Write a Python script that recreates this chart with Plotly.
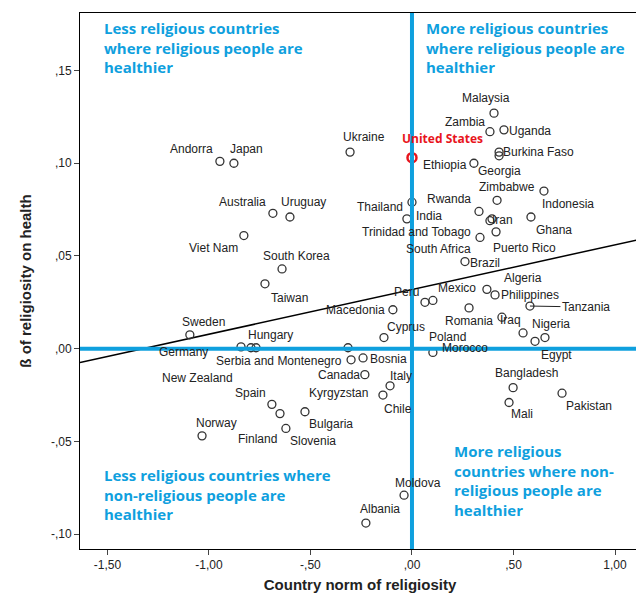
import numpy as np
import plotly.graph_objects as go

# circle positions (country norm of religiosity, beta of religiosity on health)
px = [-0.946, -0.877, -0.305, 0.404, 0.384, 0.453, 0.429, 0.429, 0.305, 0.419,
      0.650, 0.330, 0.384, 0.394, 0.586, 0.0, -0.025, 0.335, 0.414, 0.261,
      -0.828, -0.685, -0.601, -0.640, -0.724, -1.094, -0.842, -0.793, -0.768, -0.094,
      -0.138, 0.064, 0.103, 0.369, 0.409, 0.281, 0.581, 0.443, 0.547, 0.655,
      0.606, 0.103, -0.315, -0.300, -0.241, -0.232, -0.108, -0.143, -0.690, -0.650,
      -0.527, -0.621, -1.034, 0.498, 0.478, 0.739, -0.039, -0.227]
py = [0.101, 0.100, 0.106, 0.127, 0.117, 0.118, 0.106, 0.104, 0.100, 0.080,
      0.085, 0.074, 0.069, 0.070, 0.071, 0.079, 0.070, 0.060, 0.063, 0.047,
      0.061, 0.073, 0.071, 0.043, 0.035, 0.0075, 0.001, 0.0005, 0.0005, 0.021,
      0.006, 0.025, 0.026, 0.032, 0.029, 0.022, 0.023, 0.017, 0.0085, 0.006,
      0.004, -0.002, 0.0005, -0.006, -0.005, -0.014, -0.020, -0.025, -0.030, -0.035,
      -0.034, -0.043, -0.047, -0.021, -0.029, -0.024, -0.079, -0.094]

us_x, us_y = 0.0, 0.103

# labels: name, index of point, pixel offset (right, down)
labels = [("Andorra", 0, -28, -12), ("Japan", 1, 13, -14), ("Ukraine", 2, 14, -15),
          ("Malaysia", 3, -8, -15), ("Zambia", 4, -25, -10), ("Uganda", 5, 26, 1),
          ("Burkina Faso", 6, 39, 0), ("Ethiopia", 8, -29, 2), ("Georgia", 8, 26, 8),
          ("Zimbabwe", 9, 10, -13), ("Indonesia", 10, 24, 13), ("Rwanda", 11, -30, -12),
          ("Iran", 13, 11, 1), ("Ghana", 14, 23, 13), ("Thailand", 15, -32, 5),
          ("India", 16, 22, -3), ("Trinidad and Tobago", 17, -64, -5),
          ("South Africa", 17, -42, 12), ("Puerto Rico", 18, 28, 16), ("Brazil", 19, 20, 1),
          ("Viet Nam", 20, -30, 12), ("Australia", 21, -30, -11), ("Uruguay", 22, 14, -15),
          ("South Korea", 23, 14, -13), ("Taiwan", 24, 25, 14), ("Sweden", 25, 14, -13),
          ("Germany", 26, -58, 5), ("Hungary", 27, 20, -13), ("New Zealand", 28, -59, 30),
          ("Macedonia", 29, -37, 0), ("Cyprus", 30, 22, -11), ("Peru", 31, -18, -10),
          ("Mexico", 33, -30, -1), ("Algeria", 34, 28, -17), ("Philippines", 34, 35, 0),
          ("Romania", 35, 0, 13), ("Iraq", 37, 9, 3), ("Nigeria", 38, 28, -9),
          ("Egypt", 40, 21, 14), ("Morocco", 40, -70, 7), ("Poland", 41, 15, -15),
          ("Serbia and Montenegro", 43, -72, 1), ("Bosnia", 44, 25, 1),
          ("Canada", 45, -26, 0), ("Italy", 46, 11, -10), ("Kyrgyzstan", 47, -44, -2),
          ("Chile", 47, 15, 14), ("Spain", 48, -21, -11), ("Bulgaria", 50, 26, 12),
          ("Finland", 51, -28, 11), ("Slovenia", 51, 27, 13), ("Norway", 52, 14, -13),
          ("Bangladesh", 53, 13, -15), ("Mali", 54, 13, 12), ("Pakistan", 55, 27, 13),
          ("Moldova", 56, 14, -12), ("Albania", 57, 14, -14)]

# fit line
line_x = [-1.635, 1.123]
slope, intercept = 0.0241, 0.0319

blue = "#0fa0de"
fig = go.Figure()
fig.add_trace(go.Scatter(x=line_x, y=[intercept + slope * v for v in line_x], mode="lines",
                         line=dict(color="black", width=1.5), hoverinfo="skip"))
fig.add_hline(y=0, line=dict(color=blue, width=4))
fig.add_vline(x=0, line=dict(color=blue, width=4))
fig.add_trace(go.Scatter(x=px, y=py, mode="markers",
                         marker=dict(symbol="circle-open", size=8, color="#333", line=dict(width=1.3))))
fig.add_trace(go.Scatter(x=[us_x], y=[us_y], mode="markers",
                         marker=dict(symbol="circle-open-dot", size=9, color="#e8141c", line=dict(width=2.5))))

for name, i, dx, dy in labels:
    fig.add_annotation(x=px[i], y=py[i], text=name, showarrow=False, xshift=dx, yshift=-dy,
                       font=dict(family="Arial", size=12, color="#222"))
fig.add_annotation(x=px[36], y=py[36], text="Tanzania", showarrow=True, arrowhead=0,
                   arrowwidth=1, arrowcolor="#222", ax=56, ay=1, xanchor="center",
                   font=dict(family="Arial", size=12, color="#222"))
fig.add_annotation(x=us_x, y=us_y, text="<b>United States</b>", showarrow=False, xshift=31, yshift=19,
                   font=dict(family="Open Sans", size=12, color="#e8141c"))

quad = [("Less religious countries<br>where religious people are<br>healthier", 0.04, 0.995),
        ("More religious countries<br>where religious people are<br>healthier", 0.615, 0.995),
        ("Less religious countries where<br>non-religious people are<br>healthier", 0.04, 0.16),
        ("More religious<br>countries where non-<br>religious people are<br>healthier", 0.665, 0.205)]
for t, qx, qy in quad:
    fig.add_annotation(xref="paper", yref="paper", x=qx, y=qy, text="<b>" + t + "</b>",
                       showarrow=False, xanchor="left", yanchor="top", align="left",
                       font=dict(family="Open Sans", size=15, color=blue))

fig.update_layout(
    width=644, height=599, showlegend=False, plot_bgcolor="white", paper_bgcolor="white",
    margin=dict(l=72, r=12, t=5, b=58),
    xaxis=dict(range=[-1.635, 1.123], tickvals=[-1.5, -1, -0.5, 0, 0.5, 1],
               ticktext=["-1,50", "-1,00", "-,50", ",00", ",50", "1,00"], ticks="outside",
               showgrid=False, zeroline=False, showline=True, linecolor="black", mirror=True,
               tickfont=dict(family="Arial", size=12, color="#222"),
               title=dict(text="<b>Country norm of religiosity</b>", standoff=8,
                          font=dict(family="Arial", size=15, color="#222"))),
    yaxis=dict(range=[-0.108, 0.181], tickvals=[-0.1, -0.05, 0, 0.05, 0.1, 0.15],
               ticktext=["-,10", "-,05", ",00", ",05", ",10", ",15"], ticks="outside",
               showgrid=False, zeroline=False, showline=True, linecolor="black", mirror=True,
               tickfont=dict(family="Arial", size=12, color="#222"),
               title=dict(text="<b>ß of religiosity on health</b>", font=dict(family="Arial", size=15, color="#222"))),
)
fig.write_html("out.html")
